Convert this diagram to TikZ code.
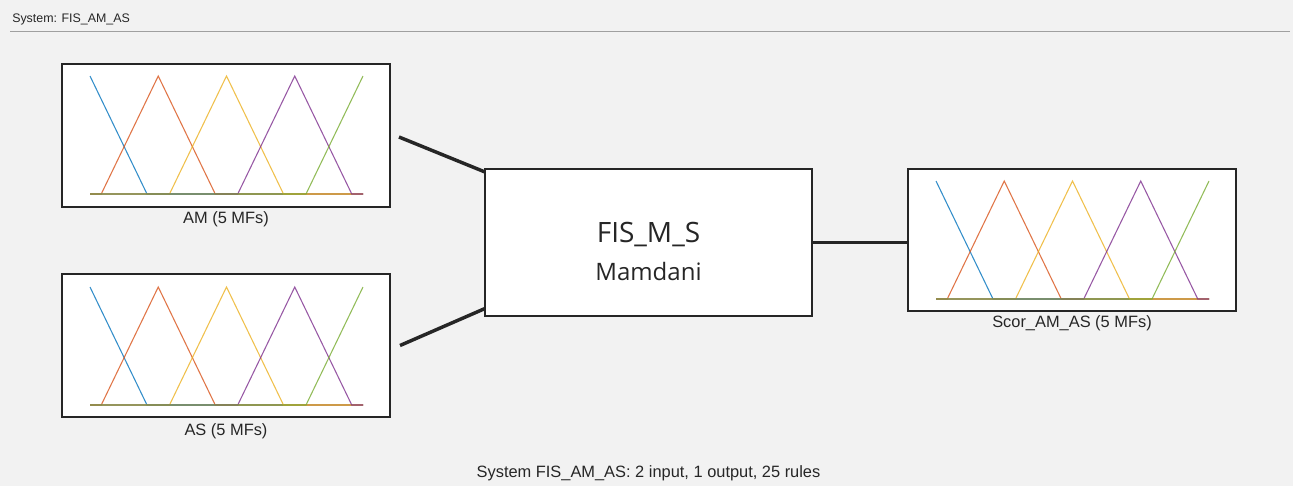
\documentclass[tikz,border=0pt]{standalone}
\usepackage{fontspec}
\setmainfont{Liberation Sans}
\newfontfamily\uifont{Open Sans}
\definecolor{bg}{HTML}{F2F2F2}
\definecolor{ink}{HTML}{262626}
\definecolor{rulegray}{HTML}{A0A0A0}
\definecolor{mfblue}{HTML}{0072BD}
\definecolor{mforange}{HTML}{D95319}
\definecolor{mfyellow}{HTML}{EDB120}
\definecolor{mfpurple}{HTML}{7E2F8E}
\definecolor{mfgreen}{HTML}{77AC30}

% one set of five triangular membership functions; #1 = left, #2 = top
\newcommand\mfset[2]{%
  \draw[mfline, mfblue] (#1,#2) -- (#1+57,#2+118) -- (#1+273,#2+118);
  \foreach \k/\c in {1/mforange,2/mfyellow,3/mfpurple}{
    \pgfmathsetmacro\pk{#1+\k*68.25}
    \draw[mfline, \c] (#1,#2+118) -- (\pk-57,#2+118) -- (\pk,#2)
      -- (\pk+57,#2+118) -- (#1+273,#2+118);
  }
  \draw[mfline, mfgreen] (#1,#2+118) -- (#1+216,#2+118) -- (#1+273,#2);
}

\begin{document}
\begin{tikzpicture}[x=0.75pt,y=-0.75pt,
  mfbox/.style={draw=ink, line width=1.5pt, fill=white, inner sep=0pt,
    minimum width=246pt, minimum height=107pt},
  fisbox/.style={draw=ink, line width=1.5pt, fill=white, inner sep=0pt,
    minimum width=245.25pt, minimum height=110.25pt},
  mfline/.style={line width=0.8pt, opacity=0.8, line join=miter},
  lbl/.style={text=ink, font=\fontsize{12.3pt}{14pt}\selectfont, inner sep=0pt},
  link/.style={draw=ink, line width=2.6pt}]

% canvas
\fill[bg] (0,0) rectangle (1293,486);
\useasboundingbox (0,0) rectangle (1293,486);

% header
\node[lbl, anchor=west, font=\fontsize{9.3pt}{11pt}\selectfont] (title) at (12,19) {System: FIS\_AM\_AS};
\coordinate (ruleL) at (10,31.5);
\coordinate (ruleR) at (1290,31.5);
\draw[rulegray, line width=1.1pt] (ruleL) -- (ruleR);

% input and output variable boxes
\node[mfbox] (am) at (226,135.5) {};
\mfset{90}{76}
\node[lbl] (amlbl) at (226,219) {AM (5 MFs)};

\node[mfbox] (as) at (226,345.5) {};
\mfset{90}{287}
\node[lbl] (aslbl) at (226,431) {AS (5 MFs)};

\node[mfbox] (out) at (1072,240) {};
\mfset{936}{181}
\node[lbl] (outlbl) at (1072,323) {Scor\_AM\_AS (5 MFs)};

% inference system block
\node[fisbox] (fis) at (648.5,242.5) {};
\node[anchor=base, text=ink, inner sep=0pt, font=\uifont\fontsize{21pt}{24pt}\selectfont] (fisname) at (648.5,242) {FIS\_M\_S};
\node[anchor=base, text=ink, inner sep=0pt, font=\uifont\fontsize{18pt}{21pt}\selectfont] (fistype) at (648.5,280) {Mamdani};

% connectors
\coordinate (amout) at (399,137);
\coordinate (asout) at (400,345.5);
\coordinate (fisin1) at (485,172);
\coordinate (fisin2) at (485,308.5);
\draw[link] (amout) -- (fisin1);
\draw[link] (asout) -- (fisin2);
\draw[link] (fis.east) -- (fis.east -| out.west);

% footer
\node[lbl] (summary) at (648.5,473) {System FIS\_AM\_AS: 2 input, 1 output, 25 rules};
\end{tikzpicture}
\end{document}
